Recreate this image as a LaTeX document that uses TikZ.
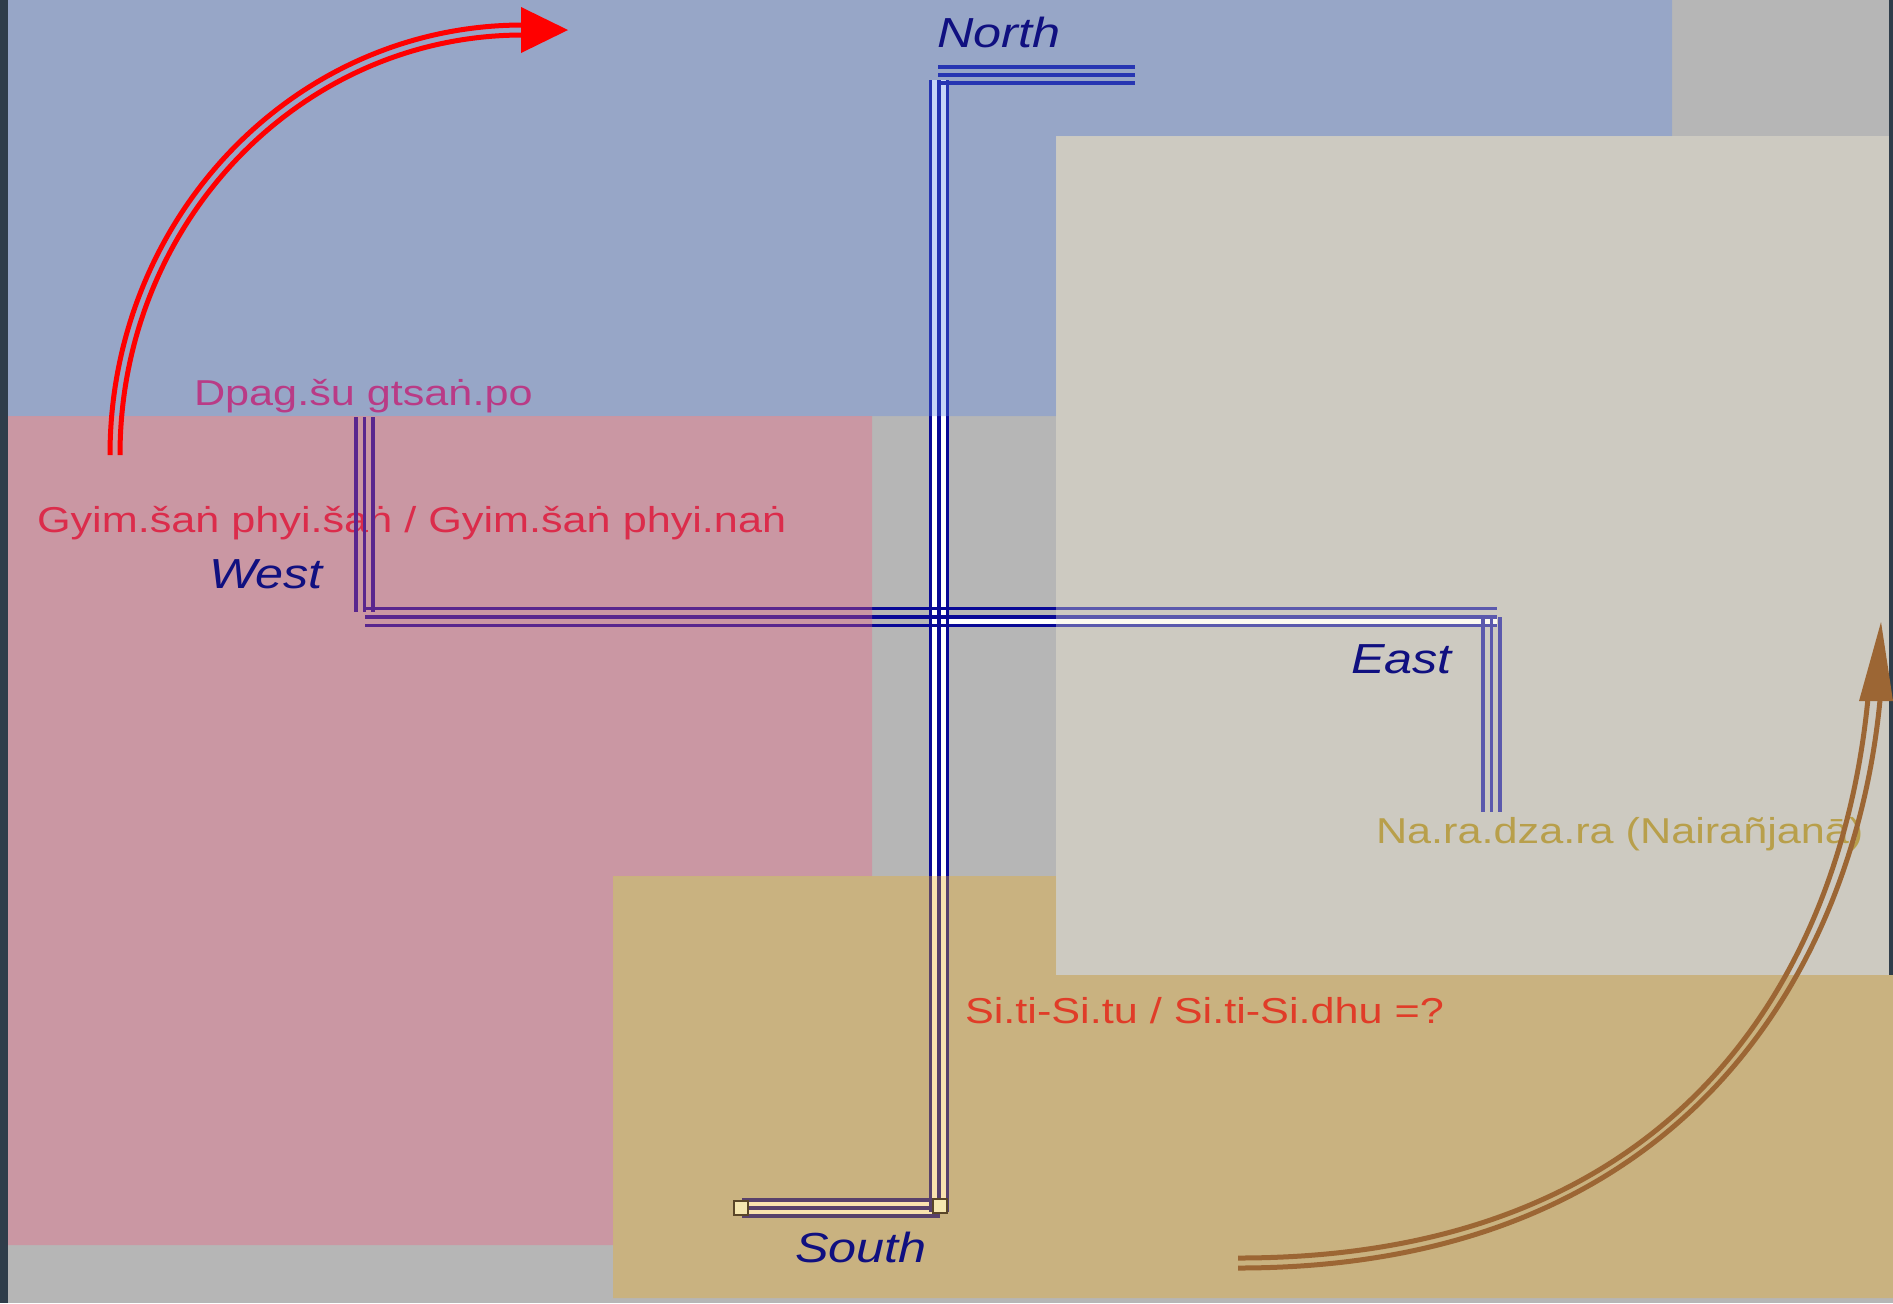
\documentclass[tikz,border=0pt]{standalone}
\usepackage{fontspec}
\newfontfamily\labfont{Liberation Sans}[FakeStretch=1.2]
\definecolor{bggray}{RGB}{182,182,182}
\definecolor{edgedark}{RGB}{47,61,74}
\definecolor{ovblue}{RGB}{96,139,233}
\definecolor{ovpink}{RGB}{242,96,128}
\definecolor{ovtan}{RGB}{239,173,28}
\definecolor{ovbeige}{RGB}{248,242,216}
\definecolor{swblue}{RGB}{8,8,150}
\definecolor{dirblue}{RGB}{16,16,128}
\definecolor{txtblue}{RGB}{233,17,82}
\definecolor{txtpink}{RGB}{208,17,47}
\definecolor{txttan}{RGB}{217,0,47}
\definecolor{txtbeige}{RGB}{151,116,0}
\definecolor{arrowred}{RGB}{255,0,0}
\definecolor{arrowbrown}{RGB}{156,102,52}
\definecolor{sqfill}{RGB}{245,230,176}
\definecolor{sqdraw}{RGB}{90,70,40}
\tikzset{
  overlayfill/.style={fill opacity=0.35, draw=none},
  swline/.style={draw=swblue, line width=1.9pt},
  swgap/.style={draw=white, line width=7pt},
  lab/.style={inner sep=0pt, outer sep=0pt, anchor=base west,
    font=\labfont\fontsize{18}{20}\selectfont},
  dirlab/.style={inner sep=0pt, outer sep=0pt, anchor=base west, text=dirblue,
    font=\labfont\itshape\fontsize{21}{24}\selectfont},
  redline/.style={draw=arrowred, line width=2.5pt},
  brownline/.style={draw=arrowbrown, line width=2.5pt},
  sqbox/.style={fill=sqfill, draw=sqdraw, line width=0.7pt}
}
\begin{document}
\begin{tikzpicture}[x=0.5pt,y=-0.5pt]
\useasboundingbox (0,0) rectangle (1893,1303);
% background
\fill[bggray] (0,0) rectangle (1893,1303);
\fill[edgedark] (0,0) rectangle (8,1303);
\fill[edgedark] (1889,0) rectangle (1893,975);

% texts lying under the tinted panels
\node[lab, text=txtblue] (dpag) at (194,405) {Dpag.šu gtsan^^^^0307.po};
\node[lab, text=txtpink] (gyim) at (37,532) {Gyim.šan^^^^0307 phyi.šan^^^^0307 / Gyim.šan^^^^0307 phyi.nan^^^^0307};
\node[lab, text=txttan] (siti) at (965,1023) {Si.ti-Si.tu / Si.ti-Si.dhu =?};
\node[lab, text=txtbeige] (nara) at (1376,843) {Na.ra.dza.ra (Nairañjanā)};

% swastika: white gaps
\draw[swgap] (939,80) -- (939,1212);
\draw[swgap] (742,1208) -- (940,1208);
\draw[draw=white, line width=2.75pt] (948,621.25) -- (1497,621.25);
% swastika: lines
\foreach \xx in {930.5,939,947.5} \draw[swline] (\xx,80) -- (\xx,1212);
\foreach \yy in {67,75,83} \draw[swline] (938,\yy) -- (1135,\yy);
\foreach \yy in {608.5,617,625.5} \draw[swline] (365,\yy) -- (1497,\yy);
\foreach \xx in {356,364.5,373} \draw[swline] (\xx,417) -- (\xx,612);
\foreach \xx in {1483,1491.5,1500} \draw[swline] (\xx,617) -- (\xx,812);
\foreach \yy in {1200,1208,1216} \draw[swline] (742,\yy) -- (940,\yy);

% tinted panels
\fill[ovblue, overlayfill] (8,0) -- (1672,0) -- (1672,136) -- (1056,136) -- (1056,416) -- (8,416) -- cycle;
\fill[ovpink, overlayfill] (8,416) -- (872,416) -- (872,876) -- (613,876) -- (613,1245) -- (8,1245) -- cycle;
\fill[ovtan, overlayfill] (613,876) -- (1056,876) -- (1056,975) -- (1893,975) -- (1893,1298) -- (613,1298) -- cycle;
\fill[ovbeige, overlayfill] (1056,136) -- (1889,136) -- (1889,975) -- (1056,975) -- cycle;

% end squares of the south arm
\draw[sqbox] (734,1201) rectangle (748,1215);
\draw[sqbox] (933,1199) rectangle (947,1213);

% direction labels
\node[dirlab] (north) at (937,47) {North};
\node[dirlab] (west) at (209,588) {West};
\node[dirlab] (east) at (1351,673) {East};
\node[dirlab] (south) at (795,1262) {South};

% red arrow
\coordinate (rs1) at (110,455); \coordinate (re1) at (523,25);
\coordinate (rs2) at (120,455); \coordinate (re2) at (523,35);
\draw[redline] (rs1) .. controls (110,218) and (294,25) .. (re1);
\draw[redline] (rs2) .. controls (120,223) and (300,35) .. (re2);
\fill[arrowred] (521,7) -- (568,30) -- (521,53) -- cycle;

% brown arrow
\coordinate (bs1) at (1238,1258); \coordinate (be1) at (1868,698);
\coordinate (bs2) at (1238,1268); \coordinate (be2) at (1880,700);
\draw[brownline] (bs1) .. controls (1700,1258) and (1844,949) .. (be1);
\draw[brownline] (bs2) .. controls (1700,1268) and (1856,951) .. (be2);
\fill[arrowbrown] (1859,701) -- (1881,622) -- (1893,701) -- cycle;
\end{tikzpicture}
\end{document}
